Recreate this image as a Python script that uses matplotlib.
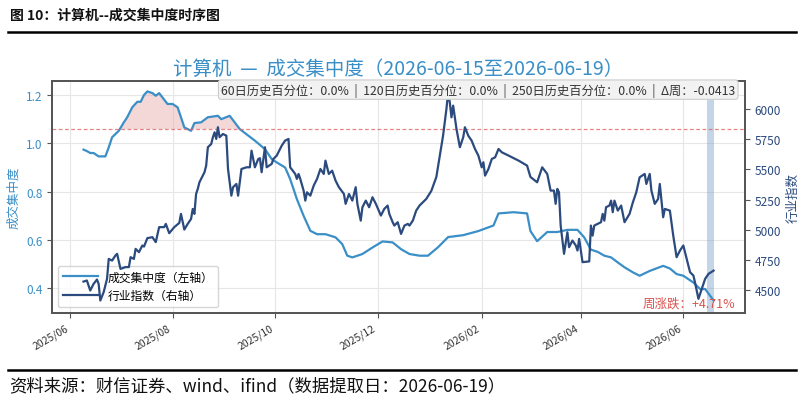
import matplotlib
matplotlib.use("Agg")
import matplotlib.pyplot as plt
import matplotlib.dates as mdates
from matplotlib.lines import Line2D
import pandas as pd
import numpy as np

plt.rcParams['font.family'] = ['Noto Sans CJK SC', 'DejaVu Sans']
plt.rcParams['axes.unicode_minus'] = False

# 成交集中度 (left axis)
conc_dates = [
    "2025-06-09", "2025-06-11", "2025-06-13", "2025-06-15", "2025-06-18", "2025-06-22",
    "2025-06-24", "2025-06-26", "2025-06-30", "2025-07-03", "2025-07-05", "2025-07-08",
    "2025-07-11", "2025-07-13", "2025-07-15", "2025-07-17", "2025-07-20", "2025-07-22",
    "2025-07-24", "2025-07-26", "2025-07-29", "2025-08-01", "2025-08-04", "2025-08-06",
    "2025-08-08", "2025-08-12", "2025-08-14", "2025-08-18", "2025-08-22", "2025-08-28",
    "2025-08-30", "2025-09-04", "2025-09-10", "2025-09-19", "2025-09-25", "2025-09-29",
    "2025-10-02", "2025-10-07", "2025-10-10", "2025-10-14", "2025-10-18", "2025-10-22",
    "2025-10-26", "2025-10-31", "2025-11-06", "2025-11-10", "2025-11-13", "2025-11-16",
    "2025-11-22", "2025-11-28", "2025-12-04", "2025-12-10", "2025-12-15", "2025-12-20",
    "2025-12-26", "2025-12-31", "2026-01-06", "2026-01-12", "2026-01-21", "2026-01-30",
    "2026-02-08", "2026-02-11", "2026-02-20", "2026-02-28", "2026-03-02", "2026-03-06",
    "2026-03-12", "2026-03-18", "2026-03-24", "2026-03-30", "2026-04-03", "2026-04-07",
    "2026-04-11", "2026-04-15", "2026-04-19", "2026-04-23", "2026-04-27", "2026-05-02",
    "2026-05-06", "2026-05-12", "2026-05-20", "2026-05-24", "2026-05-28", "2026-06-01",
    "2026-06-07", "2026-06-11", "2026-06-14", "2026-06-19",
]
conc_values = [
    0.974, 0.968, 0.960, 0.960, 0.946, 0.946,
    0.983, 1.025, 1.052, 1.087, 1.108, 1.149,
    1.172, 1.172, 1.200, 1.215, 1.208, 1.197,
    1.208, 1.190, 1.163, 1.163, 1.149, 1.108,
    1.066, 1.052, 1.084, 1.087, 1.108, 1.114,
    1.100, 1.114, 1.059, 1.011, 0.976, 0.935,
    0.921, 0.900, 0.852, 0.769, 0.700, 0.638,
    0.624, 0.624, 0.611, 0.583, 0.535, 0.528,
    0.542, 0.569, 0.594, 0.590, 0.562, 0.542,
    0.535, 0.535, 0.570, 0.612, 0.620, 0.637,
    0.660, 0.710, 0.715, 0.710, 0.637, 0.595,
    0.633, 0.633, 0.642, 0.642, 0.611, 0.560,
    0.551, 0.535, 0.528, 0.507, 0.487, 0.466,
    0.452, 0.472, 0.493, 0.482, 0.459, 0.452,
    0.424, 0.397, 0.397, 0.350,
]

# 行业指数 (right axis)
idx_dates = [
    "2025-06-09", "2025-06-11", "2025-06-13", "2025-06-15", "2025-06-17", "2025-06-18",
    "2025-06-19", "2025-06-21", "2025-06-23", "2025-06-24", "2025-06-26", "2025-06-28",
    "2025-06-29", "2025-07-01", "2025-07-04", "2025-07-06", "2025-07-07", "2025-07-09",
    "2025-07-10", "2025-07-12", "2025-07-14", "2025-07-15", "2025-07-17", "2025-07-20",
    "2025-07-22", "2025-07-24", "2025-07-27", "2025-07-28", "2025-07-30", "2025-08-02",
    "2025-08-05", "2025-08-06", "2025-08-08", "2025-08-10", "2025-08-12", "2025-08-13",
    "2025-08-14", "2025-08-15", "2025-08-16", "2025-08-17", "2025-08-19", "2025-08-20",
    "2025-08-21", "2025-08-22", "2025-08-24", "2025-08-25", "2025-08-26", "2025-08-27",
    "2025-08-28", "2025-08-29", "2025-08-31", "2025-09-02", "2025-09-03", "2025-09-05",
    "2025-09-06", "2025-09-08", "2025-09-09", "2025-09-11", "2025-09-14", "2025-09-16",
    "2025-09-17", "2025-09-19", "2025-09-21", "2025-09-22", "2025-09-23", "2025-09-25",
    "2025-09-26", "2025-09-29", "2025-09-30", "2025-10-02", "2025-10-05", "2025-10-07",
    "2025-10-09", "2025-10-10", "2025-10-13", "2025-10-14", "2025-10-15", "2025-10-16",
    "2025-10-18", "2025-10-19", "2025-10-20", "2025-10-22", "2025-10-24", "2025-10-26",
    "2025-10-28", "2025-10-30", "2025-10-31", "2025-11-02", "2025-11-04", "2025-11-06",
    "2025-11-08", "2025-11-11", "2025-11-12", "2025-11-14", "2025-11-16", "2025-11-18",
    "2025-11-19", "2025-11-21", "2025-11-22", "2025-11-24", "2025-11-26", "2025-11-28",
    "2025-11-30", "2025-12-03", "2025-12-05", "2025-12-07", "2025-12-08", "2025-12-10",
    "2025-12-11", "2025-12-13", "2025-12-15", "2025-12-17", "2025-12-19", "2025-12-20",
    "2025-12-22", "2025-12-24", "2025-12-26", "2025-12-30", "2026-01-02", "2026-01-05",
    "2026-01-09", "2026-01-11", "2026-01-12", "2026-01-13", "2026-01-14", "2026-01-15",
    "2026-01-17", "2026-01-19", "2026-01-21", "2026-01-22", "2026-01-24", "2026-01-26",
    "2026-01-28", "2026-01-30", "2026-02-01", "2026-02-02", "2026-02-03", "2026-02-05",
    "2026-02-07", "2026-02-09", "2026-02-11", "2026-02-13", "2026-02-17", "2026-02-23",
    "2026-02-28", "2026-03-02", "2026-03-06", "2026-03-09", "2026-03-12", "2026-03-14",
    "2026-03-16", "2026-03-17", "2026-03-18", "2026-03-19", "2026-03-20", "2026-03-22",
    "2026-03-24", "2026-03-25", "2026-03-27", "2026-03-29", "2026-03-30", "2026-03-31",
    "2026-04-02", "2026-04-06", "2026-04-07", "2026-04-08", "2026-04-09", "2026-04-11",
    "2026-04-13", "2026-04-14", "2026-04-15", "2026-04-16", "2026-04-18", "2026-04-19",
    "2026-04-20", "2026-04-21", "2026-04-23", "2026-04-25", "2026-04-27", "2026-04-30",
    "2026-05-02", "2026-05-04", "2026-05-06", "2026-05-09", "2026-05-10", "2026-05-12",
    "2026-05-13", "2026-05-15", "2026-05-17", "2026-05-18", "2026-05-20", "2026-05-21",
    "2026-05-24", "2026-05-26", "2026-05-28", "2026-05-30", "2026-06-01", "2026-06-03",
    "2026-06-05", "2026-06-07", "2026-06-08", "2026-06-10", "2026-06-12", "2026-06-14",
    "2026-06-16", "2026-06-19",
]
idx_values = [
    4570, 4579, 4496, 4551, 4587, 4551,
    4413, 4483, 4593, 4758, 4744, 4786,
    4800, 4675, 4690, 4690, 4772, 4758,
    4841, 4814, 4869, 4860, 4930, 4938,
    4897, 5021, 5021, 5048, 4971, 5021,
    5056, 5131, 5001, 5048, 5089, 5172,
    5131, 5296, 5338, 5393, 5448, 5476,
    5531, 5683, 5710, 5766, 5807, 5752,
    5849, 5766, 5793, 5779, 5503, 5282,
    5352, 5379, 5282, 5503, 5517, 5517,
    5655, 5517, 5586, 5592, 5476, 5683,
    5517, 5545, 5586, 5614, 5697, 5738,
    5752, 5517, 5462, 5421, 5462, 5421,
    5324, 5241, 5310, 5282, 5365, 5421,
    5503, 5462, 5572, 5462, 5489, 5407,
    5352, 5296, 5214, 5296, 5241, 5352,
    5214, 5075, 5186, 5241, 5186, 5269,
    5214, 5117, 5172, 5200, 5131, 5062,
    5034, 5062, 4965, 5034, 5048, 5034,
    5075, 5158, 5200, 5255, 5321, 5437,
    5779, 6000, 6138, 6055, 5931, 6028,
    5834, 5683, 5766, 5849, 5779, 5738,
    5669, 5614, 5517, 5559, 5448, 5503,
    5586, 5600, 5669, 5641, 5614, 5572,
    5531, 5437, 5393, 5517, 5462, 5324,
    5324, 5214, 5338, 5310, 5034, 4800,
    4979, 4855, 4910, 4869, 4827, 4924,
    4731, 4737, 5034, 4951, 5034, 5048,
    5062, 5131, 5075, 5186, 5200, 5241,
    5145, 5241, 5158, 5200, 5062, 5131,
    5228, 5310, 5434, 5462, 5379, 5462,
    5324, 5214, 5255, 5379, 5103, 5172,
    5158, 4951, 4772, 4827, 4869, 4758,
    4648, 4620, 4560, 4427, 4510, 4593,
    4634, 4661,
]

threshold = 1.059
week_start, week_end = "2026-06-15", "2026-06-19"
info_text = "60日历史百分位：0.0%  |  120日历史百分位：0.0%  |  250日历史百分位：0.0%  |  Δ周：-0.0413"
week_change = "周涨跌：+4.71%"

c_conc = "#3a8fc7"
c_idx = "#2b4a7e"

cd = pd.to_datetime(conc_dates)
cv = np.array(conc_values)
idd = pd.to_datetime(idx_dates)
iv = np.array(idx_values)

fig = plt.figure(figsize=(8.04, 4.02), dpi=100)
ax1 = fig.add_axes([0.0647, 0.219, 0.862, 0.577])
ax2 = ax1.twinx()

l1, = ax1.plot(cd, cv, color=c_conc, lw=1.6, label="成交集中度（左轴）")
ax1.axhline(threshold, color="#e06666", lw=0.9, ls=(0, (3, 2)), alpha=0.8)
ax1.fill_between(cd, cv, threshold, where=cv > threshold, interpolate=True,
                 color="#e8a8a8", alpha=0.45, lw=0)
ax1.axvspan(pd.Timestamp(week_start), pd.Timestamp(week_end), color="#7aa3c8", alpha=0.45, lw=0)

l2, = ax2.plot(idd, iv, color=c_idx, lw=1.6, label="行业指数（右轴）")

ax1.set_ylim(0.298, 1.258)
ax2.set_ylim(4310, 6232)
ax1.set_yticks([0.4, 0.6, 0.8, 1.0, 1.2])
ax2.set_yticks([4500, 4750, 5000, 5250, 5500, 5750, 6000])
ax1.xaxis.set_major_locator(mdates.MonthLocator(bymonth=[2, 4, 6, 8, 10, 12]))
ax1.xaxis.set_major_formatter(mdates.DateFormatter("%Y/%m"))
for lab in ax1.get_xticklabels():
    lab.set_rotation(30)
    lab.set_ha("right")
ax1.tick_params(axis="x", labelsize=7.5, labelcolor="#333333", colors="#555555")
ax1.tick_params(axis="y", labelsize=8.5, labelcolor=c_conc, colors="#555555")
ax2.tick_params(axis="y", labelsize=8.5, labelcolor=c_idx, colors="#555555")

ax1.grid(True, color="#e6e6e6", lw=0.8)
ax1.set_axisbelow(True)
for ax in (ax1, ax2):
    for sp in ax.spines.values():
        sp.set_color("#555555")
        sp.set_linewidth(1.3)

ax1.set_ylabel("成交集中度", color=c_conc, fontsize=9)
ax2.set_ylabel("行业指数", color=c_idx, fontsize=9)

ax1.set_title("计算机  —  成交集中度（2026-06-15至2026-06-19）", color=c_conc, fontsize=14, pad=5)

ax2.text(0.986, 0.993, info_text, transform=ax2.transAxes, ha="right", va="top", fontsize=8.8,
         color="#333333", zorder=10,
         bbox=dict(boxstyle="round,pad=0.22", fc="#f2f2f2", ec="#cccccc", lw=0.8))
ax2.text(0.986, 0.015, week_change, transform=ax2.transAxes, ha="right", va="bottom",
         fontsize=9, color="#d9534f", zorder=10)

leg = ax1.legend(handles=[l1, l2], loc="lower left", fontsize=8.5, frameon=True,
                 borderaxespad=0.5, handlelength=3)
leg.get_frame().set_edgecolor("#cccccc")

fig.text(0.012, 0.962, "图 10：计算机--成交集中度时序图", fontsize=10, fontweight="bold",
         ha="left", va="center", color="#111111")
fig.add_artist(Line2D([0.01, 0.99], [0.918, 0.918], color="black", lw=1.8))
fig.add_artist(Line2D([0.01, 0.99], [0.078, 0.078], color="black", lw=1.8))
fig.text(0.012, 0.04, "资料来源：财信证券、wind、ifind（数据提取日：2026-06-19）", fontsize=12.5,
         ha="left", va="center", color="#111111", style="italic")

fig.savefig("out.png", dpi=100)
